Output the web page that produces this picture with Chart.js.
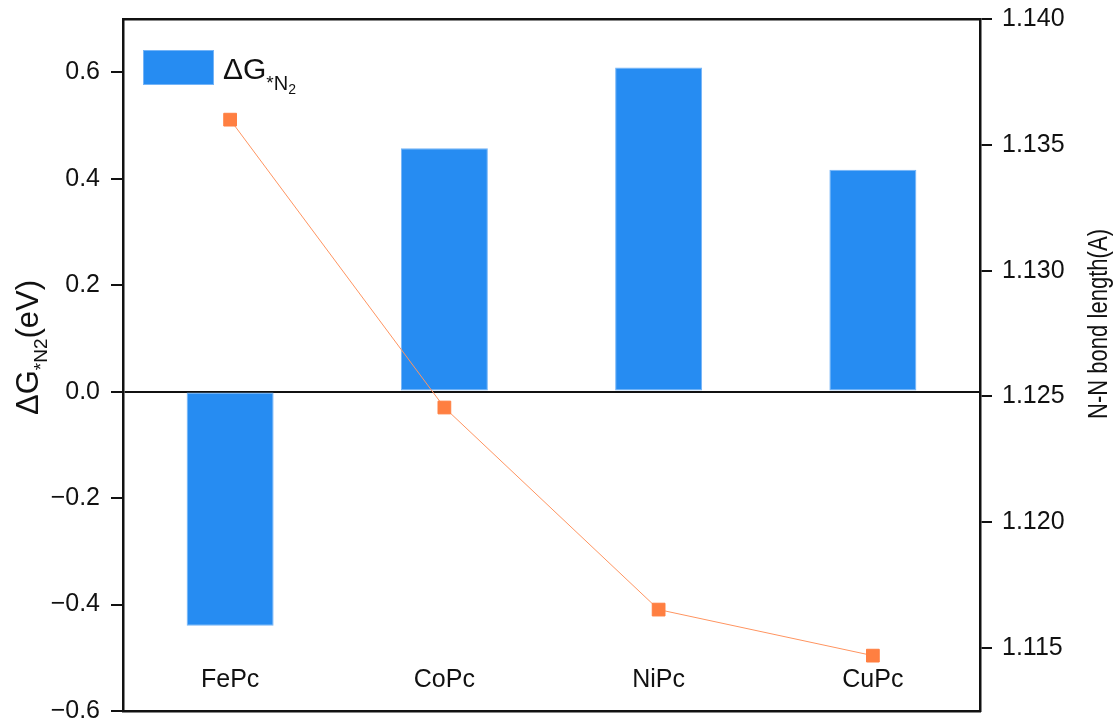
<!DOCTYPE html>
<html>
<head>
<meta charset="utf-8">
<script src="https://cdn.jsdelivr.net/npm/chart.js@4.4.0/dist/chart.umd.min.js"></script>
<style>
  html, body { margin: 0; padding: 0; background: #ffffff; }
  #wrap { width: 1120px; height: 722px; }
</style>
</head>
<body>
<div id="wrap"><canvas id="c" width="1120" height="722"></canvas></div>
<script>
// Catalysts on the category axis
const categories = ['FePc', 'CoPc', 'NiPc', 'CuPc'];
// Adsorption free energy of *N2 (eV), left axis
const deltaG = [-0.44, 0.457, 0.609, 0.417];
// N-N bond length (Å), right axis
const bondLength = [1.1360, 1.12456, 1.11653, 1.11470];
// Tick values for both value axes
const leftTicks = [-0.6, -0.4, -0.2, 0.0, 0.2, 0.4, 0.6];
const rightTicks = [1.115, 1.120, 1.125, 1.130, 1.135, 1.140];

const FONT = '"Liberation Sans", Arial, Helvetica, sans-serif';
const INK = '#111111';
const BAR_FILL = '#268CF2';
const BAR_EDGE = '#74B4F7';
const LINE_COLOR = '#FF9460';
const MARK_COLOR = '#FF7F41';

// Draws a sequence of text runs of differing size/baseline offset, starting at (0,0)
function drawRuns(ctx, runs) {
  let x = 0;
  for (const r of runs) {
    ctx.font = r.size + 'px ' + FONT;
    ctx.fillText(r.text, x, r.shift || 0);
    x += ctx.measureText(r.text).width;
  }
}

// Keep the plot frame fixed: no extra room reserved for half-height edge labels
function noEdgePadding(s) {
  s.paddingTop = 0;
  s.paddingBottom = 0;
  s.paddingLeft = 0;
  s.paddingRight = 0;
}

// Legend entry and axis titles with subscripts
const annotations = {
  id: 'annotations',
  afterDraw(chart) {
    const ctx = chart.ctx;
    ctx.save();
    ctx.textBaseline = 'alphabetic';
    ctx.textAlign = 'left';

    // legend
    ctx.fillStyle = BAR_FILL;
    ctx.fillRect(143, 50, 71, 35);
    ctx.strokeStyle = BAR_EDGE;
    ctx.lineWidth = 1;
    ctx.strokeRect(143.5, 50.5, 70, 34);
    ctx.fillStyle = INK;
    ctx.save();
    ctx.translate(223, 79);
    drawRuns(ctx, [
      { text: 'ΔG', size: 30, shift: 0 },
      { text: '*', size: 19, shift: 10 },
      { text: 'N', size: 20, shift: 11 },
      { text: '2', size: 14, shift: 15 }
    ]);
    ctx.restore();

    // left axis title
    ctx.save();
    ctx.translate(38, 415);
    ctx.rotate(-Math.PI / 2);
    drawRuns(ctx, [
      { text: 'ΔG', size: 31, shift: 0 },
      { text: '*N2', size: 19, shift: 9 },
      { text: '(eV)', size: 31, shift: 0 }
    ]);
    ctx.restore();

    // right axis title
    ctx.save();
    ctx.translate(1107, 419);
    ctx.rotate(-Math.PI / 2);
    ctx.font = '27px ' + FONT;
    const t = 'N-N bond length(A)';
    const w = ctx.measureText(t).width;
    ctx.scale(190 / w, 1);
    ctx.fillText(t, 0, 0);
    ctx.restore();

    ctx.restore();
  }
};

const tickFont = { family: FONT, size: 25 };

new Chart(document.getElementById('c'), {
  data: {
    labels: categories,
    datasets: [
      {
        type: 'line',
        label: 'N-N bond length',
        data: bondLength,
        yAxisID: 'y1',
        xAxisID: 'x',
        order: 0,
        borderColor: LINE_COLOR,
        borderWidth: 1,
        tension: 0,
        fill: false,
        pointStyle: 'rect',
        pointRadius: 9,
        pointBackgroundColor: MARK_COLOR,
        pointBorderColor: MARK_COLOR,
        pointBorderWidth: 1
      },
      {
        type: 'bar',
        label: 'ΔG*N2',
        data: deltaG,
        yAxisID: 'y',
        xAxisID: 'x',
        order: 1,
        backgroundColor: BAR_FILL,
        borderColor: BAR_EDGE,
        borderWidth: 1,
        borderSkipped: false,
        barPercentage: 0.406,
        categoryPercentage: 1.0
      }
    ]
  },
  plugins: [annotations],
  options: {
    responsive: false,
    animation: false,
    devicePixelRatio: 1,
    layout: { padding: { top: 19, left: 0, right: 0, bottom: 0 } },
    plugins: {
      legend: { display: false },
      tooltip: { enabled: false }
    },
    scales: {
      x: {
        type: 'category',
        position: 'bottom',
        offset: true,
        grid: { display: false, drawTicks: false },
        border: { display: true, color: INK, width: 2.5 },
        ticks: {
          mirror: true,
          padding: 16,
          color: INK,
          font: tickFont,
          maxRotation: 0,
          autoSkip: false
        },
        afterFit: (s) => { s.height = 11; noEdgePadding(s); }
      },
      xTop: {
        type: 'category',
        position: 'top',
        offset: true,
        labels: categories,
        grid: { display: false, drawTicks: false },
        border: { display: true, color: INK, width: 2.5 },
        ticks: { display: false },
        afterFit: (s) => { s.height = 0; noEdgePadding(s); }
      },
      y: {
        type: 'linear',
        position: 'left',
        min: -0.6,
        max: 0.7,
        afterBuildTicks: (s) => { s.ticks = leftTicks.map(v => ({ value: v })); },
        grid: {
          color: (c) => (c.tick && Math.abs(c.tick.value) < 1e-9) ? INK : 'rgba(0,0,0,0)',
          tickColor: INK,
          lineWidth: 2,
          tickLength: 12,
          drawTicks: true
        },
        border: { display: true, color: INK, width: 2.5 },
        ticks: {
          padding: 11,
          color: INK,
          font: tickFont,
          callback: (v) => Number(v).toFixed(1).replace('-', '\u2212')
        },
        afterFit: (s) => { s.width = 123; noEdgePadding(s); }
      },
      y1: {
        type: 'linear',
        position: 'right',
        min: 1.1125,
        max: 1.140,
        afterBuildTicks: (s) => { s.ticks = rightTicks.map(v => ({ value: v })); },
        grid: {
          drawOnChartArea: false,
          color: INK,
          tickColor: INK,
          lineWidth: 2,
          tickLength: 12,
          drawTicks: true
        },
        border: { display: true, color: INK, width: 2.5 },
        ticks: {
          padding: 10,
          color: INK,
          font: tickFont,
          callback: (v) => Number(v).toFixed(3)
        },
        afterFit: (s) => { s.width = 140; noEdgePadding(s); }
      }
    }
  }
});
</script>
</body>
</html>
